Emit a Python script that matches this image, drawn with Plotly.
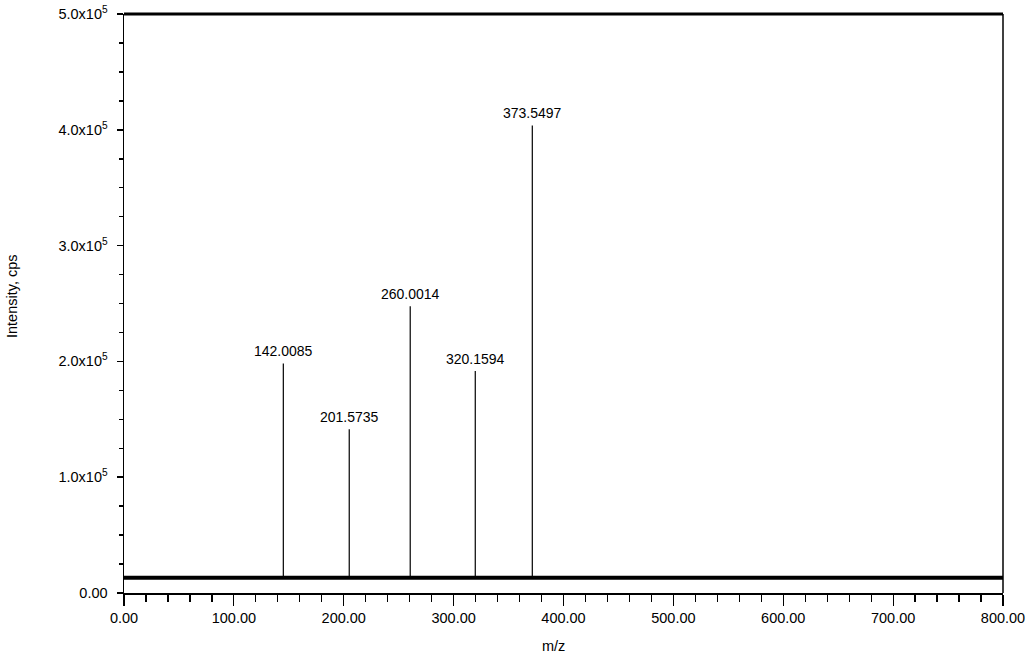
import plotly.graph_objects as go

# Data
peak_labels = ["142.0085", "201.5735", "260.0014", "320.1594", "373.5497"]
peak_mz = [145.0, 205.0, 260.5, 319.7, 371.6]
peak_intensity = [1.982e5, 1.415e5, 2.476e5, 1.918e5, 4.038e5]
baseline_level = 1.32e4
x_range = [0, 800]
y_range = [0, 5.0e5]
y_tickvals = [0, 1e5, 2e5, 3e5, 4e5, 5e5]
y_ticktext = ["0.00", "1.0x10<sup>5</sup>", "2.0x10<sup>5</sup>", "3.0x10<sup>5</sup>",
              "4.0x10<sup>5</sup>", "5.0x10<sup>5</sup>"]

FONT = "Liberation Sans, Arial, sans-serif"
W, H = 1028, 656
L, R, T, B = 124, 25, 14, 63
PW, PH = W - L - R, H - T - B

fig = go.Figure()

# baseline (thick)
fig.add_trace(go.Scatter(x=x_range, y=[baseline_level, baseline_level], mode="lines",
                         line=dict(color="black", width=4), hoverinfo="skip", showlegend=False))

# peak sticks
xs, ys = [], []
for mz, inten in zip(peak_mz, peak_intensity):
    xs += [mz, mz, None]
    ys += [baseline_level, inten, None]
fig.add_trace(go.Scatter(x=xs, y=ys, mode="lines", line=dict(color="black", width=1.2),
                         hoverinfo="skip", showlegend=False))

for lab, mz, inten in zip(peak_labels, peak_mz, peak_intensity):
    fig.add_annotation(x=mz, y=inten, text=lab, showarrow=False, yanchor="bottom",
                       yshift=2, font=dict(family=FONT, size=14, color="black"))

fig.update_layout(
    width=W, height=H,
    margin=dict(l=L, r=R, t=T, b=B, autoexpand=False),
    paper_bgcolor="white", plot_bgcolor="white",
    font=dict(family=FONT, size=14, color="black"),
    showlegend=False,
    xaxis=dict(range=x_range, dtick=100, tick0=0, tickformat=".2f", automargin=False,
               showline=True, linecolor="black", linewidth=1.5,
               ticks="outside", ticklen=11, tickwidth=1.2, tickcolor="black",
               showgrid=False, zeroline=False,
               minor=dict(dtick=20, ticks="outside", ticklen=7, tickwidth=1.2,
                          tickcolor="black", showgrid=False),
               tickfont=dict(family=FONT, size=14.5, color="black")),
    yaxis=dict(range=y_range, tickvals=y_tickvals, ticktext=y_ticktext, automargin=False,
               showline=True, linecolor="black", linewidth=1.5,
               ticks="outside", ticklen=6, tickwidth=1.5, tickcolor="black",
               ticklabelstandoff=6,
               showgrid=False, zeroline=False,
               minor=dict(tickvals=[i * 25000 for i in range(21)], ticks="outside",
                          ticklen=4, tickwidth=1.5, tickcolor="black", showgrid=False),
               tickfont=dict(family=FONT, size=14.5, color="black")),
)

# top and right frame lines
fig.add_shape(type="line", xref="paper", yref="paper", x0=0, x1=1, y0=1, y1=1,
              line=dict(color="black", width=3))
fig.add_shape(type="line", xref="paper", yref="paper", x0=1, x1=1, y0=0, y1=1,
              line=dict(color="black", width=1.5))

# axis titles
fig.add_annotation(xref="paper", yref="paper", x=(553 - L) / PW, y=-(646 - (H - B)) / PH,
                   text="m/z", showarrow=False, xanchor="center", yanchor="middle",
                   font=dict(family=FONT, size=14.5, color="black"))
fig.add_annotation(xref="paper", yref="paper", x=-(L - 12) / PW, y=((H - B) - 296) / PH,
                   text="Intensity, cps", showarrow=False, textangle=-90,
                   xanchor="center", yanchor="middle",
                   font=dict(family=FONT, size=14.5, color="black"))

fig.write_html("out.html", config={"displayModeBar": False, "staticPlot": True},
               post_script="document.body.style.margin='0';document.body.style.overflow='hidden';")
